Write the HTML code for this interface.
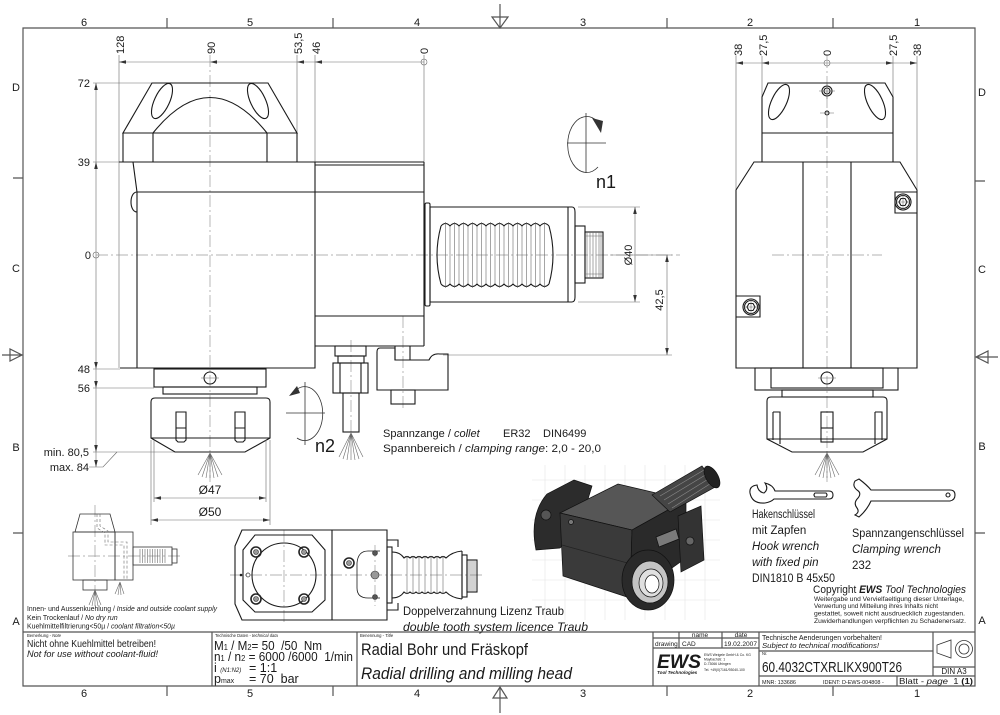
<!DOCTYPE html>
<html><head><meta charset="utf-8"><style>
html,body{margin:0;padding:0;background:#fff;}
svg{display:block;}
text{font-family:"Liberation Sans",sans-serif;fill:#1a1a1a;white-space:pre;}
.k{fill:none;stroke:#1a1a1a;stroke-width:1.1;}
.m{fill:none;stroke:#333;stroke-width:0.8;}
.t{fill:none;stroke:#6a6a6a;stroke-width:0.6;}
.c{fill:none;stroke:#9a9a9a;stroke-width:0.7;stroke-dasharray:12 3 2 3;}
.f{fill:none;stroke:#555;stroke-width:1.2;}
.a{fill:#333;stroke:none;}
</style></head><body>
<svg width="1000" height="715" viewBox="0 0 1000 715" xmlns="http://www.w3.org/2000/svg">
<rect width="1000" height="715" fill="#fff"/>

<!-- ===== FRAME ===== -->
<path class="f" d="M23,28 H975 V686 H23 Z"/>
<g class="f">
<path d="M167,18V28 M333,18V28 M667,18V28 M833,18V28"/>
<path d="M167,686V696 M333,686V696 M667,686V696 M833,686V696"/>
<path d="M13,178H23 M13,533H23 M975,181H985 M975,533H985"/>
<path d="M492,17 L508,17 L500,28 Z M500,4 V28"/>
<path d="M493,698 L507,698 L500,687 Z M500,687 V713"/>
<path d="M10,349 L10,361 L22,355 Z M2,355 H23"/>
<path d="M988,351 L988,363 L976,357 Z M976,357 H998"/>
</g>
<g font-size="11" fill="#444" text-anchor="middle">
<text x="84" y="26">6</text><text x="250" y="26">5</text><text x="417" y="26">4</text><text x="583" y="26">3</text><text x="750" y="26">2</text><text x="917" y="26">1</text>
<text x="84" y="697">6</text><text x="250" y="697">5</text><text x="417" y="697">4</text><text x="583" y="697">3</text><text x="750" y="697">2</text><text x="917" y="697">1</text>
<text x="16" y="91">D</text><text x="16" y="272">C</text><text x="16" y="451">B</text><text x="16" y="625">A</text>
<text x="982" y="96">D</text><text x="982" y="273">C</text><text x="982" y="450">B</text><text x="982" y="624">A</text>
</g>

<!-- ===== MAIN VIEW DIMENSIONS ===== -->
<g class="t">
<path d="M119,62 H424"/>
<path d="M119,55 V368 M297,55 V133 M315,55 V162 M424,55 V162"/>
<path d="M93,83 H152 M93,162 H123 M93,369 H120 M93,388 H154 M93,452 H210"/>
<path d="M96,83 V467"/>
<circle cx="424" cy="62" r="3"/>
<circle cx="96" cy="255" r="3"/>
<path d="M89,467 H103 L117,452"/>
</g>
<g class="a">
<path d="M119,62 l7,-1.8 v3.6z M210,62 l7,-1.8 v3.6z M297,62 l7,-1.8 v3.6z M315,62 l7,-1.8 v3.6z"/>
<path d="M96,83 l-1.8,7 h3.6z M96,162 l-1.8,7 h3.6z M96,369 l-1.8,-7 h3.6z M96,388 l-1.8,-7 h3.6z M96,452 l-1.8,-7 h3.6z M96,467 l-1.8,-7 h3.6z"/>
</g>
<g font-size="11">
<text transform="translate(124,54) rotate(-90)">128</text>
<text transform="translate(215,54) rotate(-90)">90</text>
<text transform="translate(302,54) rotate(-90)">53,5</text>
<text transform="translate(320,54) rotate(-90)">46</text>
<text transform="translate(428,54) rotate(-90)">0</text>
</g>
<g font-size="11" text-anchor="end">
<text x="90" y="87">72</text>
<text x="90" y="166">39</text>
<text x="91" y="259">0</text>
<text x="90" y="373">48</text>
<text x="90" y="392">56</text>
<text x="89" y="456">min. 80,5</text>
<text x="89" y="471">max. 84</text>
</g>

<!-- center lines -->
<path class="c" d="M210,55 V482"/>
<path class="c" d="M96,255 H680"/>
<path class="c" d="M403,316 V410"/>
<path class="c" d="M351,340 V440"/>

<!-- ===== MAIN VIEW BODY ===== -->
<g class="k">
<path d="M152,83 H268 L297,133 H123 Z"/>
<path d="M123,133 V162 M297,133 V162 M153,133 V162 M267,133 V162"/>
<path d="M153,133 Q210,62 267,133"/>
<ellipse cx="162" cy="101" rx="7.5" ry="19" transform="rotate(25 162 101)"/>
<ellipse cx="258" cy="101" rx="7.5" ry="19" transform="rotate(-25 258 101)"/>
<path d="M119,162 H424"/>
<path d="M133,162 L137,192 V368"/>
<path d="M137,192 C129,192 129,212 137,212"/>
<path d="M137,192 H424"/>
<path d="M120,368 H315 V162"/>
<path d="M315,165 H424 M315,316 H424 M315,346 H424 M424,162 V346"/>
<!-- spindle -->
<rect x="425" y="203" width="5" height="103" rx="1.5"/>
<path d="M430,207 H572 Q575,207 575,212 V297 Q575,302 572,302 H430 Z"/>
<path d="M568,207 V302"/>
<path d="M441,226 q4.5,-5 9,0 q4.5,-5 9,0 q4.5,-5 9,0 q4.5,-5 9,0 q4.5,-5 9,0 q4.5,-5 9,0 q4.5,-5 9,0 q4.5,-5 9,0 q4.5,-5 9,0 q4.5,-5 9,0 q4.5,-5 9,0 q4.5,-5 9,0"/>
<path d="M441,284 q4.5,5 9,0 q4.5,5 9,0 q4.5,5 9,0 q4.5,5 9,0 q4.5,5 9,0 q4.5,5 9,0 q4.5,5 9,0 q4.5,5 9,0 q4.5,5 9,0 q4.5,5 9,0 q4.5,5 9,0 q4.5,5 9,0"/>
<path d="M441,226 Q433,255 441,284 M549,226 Q557,255 549,284"/>
<rect x="575" y="226" width="10" height="57"/>
<rect x="585" y="232" width="18" height="46"/>
</g>
<g class="t" stroke="#444">
<path d="M445.5,222V288 M454.5,222V288 M463.5,222V288 M472.5,222V288 M481.5,222V288 M490.5,222V288 M499.5,222V288 M508.5,222V288 M517.5,222V288 M526.5,222V288 M535.5,222V288 M544.5,222V288"/>
<path d="M450,226V284 M459,226V284 M468,226V284 M477,226V284 M486,226V284 M495,226V284 M504,226V284 M513,226V284 M522,226V284 M531,226V284 M540,226V284"/>
<path d="M587,232V278 M590,232V278 M593,232V278 M596,232V278 M599,232V278 M601,232V278 M585,236H603 M585,274H603"/>
</g>
<!-- spindle dims -->
<g class="t">
<path d="M578,207 H640 M578,302 H640 M635,207 V302"/>
<path d="M443,355 H672 M667,255 V355 M610,255 H672"/>
</g>
<g class="a">
<path d="M635,207 l-1.8,7 h3.6z M635,302 l-1.8,-7 h3.6z M667,255 l-1.8,7 h3.6z M667,355 l-1.8,-7 h3.6z"/>
</g>
<text font-size="11" text-anchor="middle" transform="translate(632,255) rotate(-90)">Ø40</text>
<text font-size="11" text-anchor="middle" transform="translate(663,300) rotate(-90)">42,5</text>

<!-- n1 -->
<g class="m">
<path d="M586,113 V173 M567,143 H606"/>
<path d="M597,121 A19,28 0 1 0 598,167"/>
</g>
<path class="a" d="M592,118 L603,121 L601,133 Z"/>
<text x="596" y="188" font-size="18">n1</text>

<!-- nozzle + clamp -->
<g class="k">
<rect x="335" y="346" width="31" height="10"/>
<rect x="338" y="356" width="26" height="7"/>
<rect x="333" y="363" width="35" height="30"/>
<path d="M340,363V393 M361,363V393"/>
<rect x="343" y="393" width="16" height="39"/>
<path d="M380,348 H395 V360 H429 Q432,353 440,354 H448 V390 H377 V352 Q377,348 380,348 Z"/>
<path d="M395,346 V360 M410,346 V360"/>
<rect x="391" y="390" width="24" height="14"/>
</g>
<g class="t" stroke="#333">
<path d="M351,433 L339,457 M351,433 L343,459 M351,433 L347,460 M351,433 L351,460 M351,433 L355,460 M351,433 L359,459 M351,433 L363,457"/>
</g>

<!-- n2 -->
<g class="m">
<path d="M305,382 V445 M286,413 H325"/>
<path d="M296,390 A18,27 0 1 1 297,438"/>
</g>
<path class="a" d="M289,396 L297,386 L300,393 Z"/>
<text x="315" y="452" font-size="18">n2</text>

<!-- collet nut main view -->
<g class="k">
<rect x="154" y="369" width="112" height="18"/>
<circle cx="210" cy="378" r="6"/>
<rect x="163" y="387" width="94" height="7"/>
<path d="M151,438 V402 Q151,398 155,398 H266 Q270,398 270,402 V438 L245,452 H175 Z"/>
<path d="M151,438 H270"/>
<path d="M176,412 H186 V440 L184,442 H178 L176,440 Z M176,428 H186"/>
<path d="M235,412 H245 V440 L243,442 H237 L235,440 Z M235,428 H245"/>
</g>
<path class="t" d="M201,378 H219"/>
<g class="t" stroke="#333">
<path d="M210,453 L198,475 M210,453 L202,477 M210,453 L206,478 M210,453 L210,478 M210,453 L214,478 M210,453 L218,477 M210,453 L222,475"/>
</g>
<g class="t">
<path d="M154,440 V502 M266,440 V502 M154,498 H266"/>
<path d="M151,440 V525 M270,440 V525 M151,520 H270"/>
</g>
<g class="a">
<path d="M154,498 l7,-1.8 v3.6z M266,498 l-7,-1.8 v3.6z M151,520 l7,-1.8 v3.6z M270,520 l-7,-1.8 v3.6z"/>
</g>
<text x="210" y="494" font-size="12" text-anchor="middle">Ø47</text>
<text x="210" y="516" font-size="12" text-anchor="middle">Ø50</text>

<text x="383" y="437" font-size="11">Spannzange / <tspan font-style="italic">collet</tspan></text>
<text x="503" y="437" font-size="11">ER32</text>
<text x="543" y="437" font-size="11">DIN6499</text>
<text x="383" y="452" font-size="11" textLength="218" lengthAdjust="spacingAndGlyphs">Spannbereich / <tspan font-style="italic">clamping range</tspan>: 2,0 - 20,0</text>

<!-- ===== RIGHT VIEW ===== -->
<g class="t">
<path d="M736,63 H917"/>
<path d="M736,56 V190 M762,56 V97 M893,56 V97 M917,56 V190"/>
<circle cx="827" cy="63" r="3"/>
</g>
<g class="a">
<path d="M736,63 l7,-1.8 v3.6z M762,63 l7,-1.8 v3.6z M893,63 l-7,-1.8 v3.6z M917,63 l-7,-1.8 v3.6z"/>
</g>
<g font-size="11">
<text transform="translate(742,56) rotate(-90)">38</text>
<text transform="translate(767,56) rotate(-90)">27,5</text>
<text transform="translate(831,56) rotate(-90)">0</text>
<text transform="translate(897,56) rotate(-90)">27,5</text>
<text transform="translate(921,56) rotate(-90)">38</text>
</g>
<path class="c" d="M827,56 V482"/>
<path class="c" d="M772,255 H882"/>
<g class="k">
<path d="M762,162 V97 L768,83 H885 L893,97 V162"/>
<path d="M762,133 H893"/>
<ellipse cx="779" cy="102" rx="7.5" ry="19" transform="rotate(25 779 102)"/>
<ellipse cx="875" cy="102" rx="7.5" ry="19" transform="rotate(-25 875 102)"/>
<circle cx="827" cy="91" r="5"/>
<circle cx="827" cy="91" r="3"/>
<circle cx="827" cy="113" r="2"/>
<path d="M754,162 H900 L917,190 V368 H736 V190 Z"/>
<path d="M803,162 V368 M851,162 V368"/>
<path d="M917,192 H895 V213 H917"/>
<circle cx="903" cy="202" r="8"/>
<circle cx="903" cy="202" r="6.5"/>
<path d="M899,202 l2,-3.5 h4 l2,3.5 l-2,3.5 h-4 Z"/>
<path d="M736,296 H760 V317 H736"/>
<circle cx="751" cy="307" r="8"/>
<circle cx="751" cy="307" r="6.5"/>
<path d="M747,307 l2,-3.5 h4 l2,3.5 l-2,3.5 h-4 Z"/>
<rect x="755" y="368" width="143" height="22"/>
<rect x="771" y="368" width="112" height="20"/>
<circle cx="827" cy="378" r="6"/>
<rect x="782" y="390" width="91" height="7"/>
<path d="M767,439 V401 Q767,397 771,397 H883 Q887,397 887,401 V439 L863,452 H792 Z"/>
<path d="M767,439 H887"/>
<path d="M773,412 H780 V444 M773,412 V440"/>
<path d="M875,412 H882 V440 M875,412 V444"/>
<rect x="821" y="412" width="12" height="30"/>
<path d="M821,428 H833"/>
</g>
<g class="t">
<path d="M819,91H835 M827,83V99 M820,113H834 M894,202H912 M903,193V211 M742,307H760 M751,298V316 M818,378H836"/>
</g>
<g class="t" stroke="#333">
<path d="M827,453 L815,475 M827,453 L819,477 M827,453 L823,478 M827,453 L827,478 M827,453 L831,478 M827,453 L835,477 M827,453 L839,475"/>
</g>

<!-- ===== WRENCHES ===== -->
<g class="k" stroke-width="1">
<path d="M757,485 Q749,486 750,493 Q752,504 765,503 Q771,502 774,499 H829 Q833,499 833,495 Q833,491 829,491 H775 Q773,485 765,483 Q769,489 764,493 Q758,492 757,485 Z"/>
<path d="M815,493 H826 Q828,495 826,497 H815 Q813,495 815,493 Z"/>
<path d="M855,481 Q852,486 857,490 Q862,493 858,498 Q853,503 857,508 Q860,512 855,515 L859,517 Q867,510 871,501 H950 Q955,500 955,495 Q955,490 950,490 H871 Q867,485 859,479 Z"/>
<circle cx="948" cy="495" r="2"/>
</g>
<g font-size="11.5">
<text x="752" y="518" textLength="63" lengthAdjust="spacingAndGlyphs">Hakenschlüssel</text>
<text x="752" y="534">mit Zapfen</text>
<text x="752" y="550" font-style="italic">Hook wrench</text>
<text x="752" y="566" font-style="italic">with fixed pin</text>
<text x="752" y="582" textLength="83" lengthAdjust="spacingAndGlyphs">DIN1810 B 45x50</text>
<text x="852" y="537" textLength="112" lengthAdjust="spacingAndGlyphs">Spannzangenschlüssel</text>
<text x="852" y="553" font-style="italic">Clamping wrench</text>
<text x="852" y="569">232</text>
</g>
<text x="813" y="593" font-size="11" textLength="153" lengthAdjust="spacingAndGlyphs">Copyright <tspan font-weight="bold" font-style="italic">EWS</tspan> <tspan font-style="italic">Tool Technologies</tspan></text>
<g font-size="6.3">
<text x="814" y="601" textLength="150" lengthAdjust="spacingAndGlyphs">Weitergabe und Vervielfaeltigung dieser Unterlage,</text>
<text x="814" y="608" textLength="124" lengthAdjust="spacingAndGlyphs">Verwertung und Mitteilung ihres Inhalts nicht</text>
<text x="814" y="615.5" textLength="151" lengthAdjust="spacingAndGlyphs">gestattet, soweit nicht ausdruecklich zugestanden.</text>
<text x="814" y="623" textLength="152" lengthAdjust="spacingAndGlyphs">Zuwiderhandlungen verpflichten zu Schadenersatz.</text>
</g>

<!-- ===== ISOMETRIC RENDER ===== -->
<g stroke="#ececec" stroke-width="0.8" fill="none">
<path d="M545,465V620 M565,465V620 M585,465V620 M605,465V620 M625,465V620 M645,465V620 M665,465V620 M685,465V620 M705,465V620"/>
<path d="M532,480H720 M532,500H720 M532,520H720 M532,540H720 M532,560H720 M532,580H720 M532,600H720"/>
</g>
<g stroke="#111" stroke-width="0.7">
<path d="M536,550 Q529,515 547,494 L574,480 L592,486 L578,532 L560,548 Z" fill="#2c2c2c"/>
<circle cx="546" cy="515" r="5" fill="#555"/>
<path d="M560,513 L618,484 L686,500 L632,530 Z" fill="#565656"/>
<path d="M560,513 L632,530 L630,598 L563,576 Z" fill="#3a3a3a"/>
<path d="M562,545 L631,564" stroke="#222"/>
<path d="M632,530 L686,500 L686,558 L630,598 Z" fill="#2a2a2a"/>
<path d="M652,495 L702,466 L717,486 L670,512 Z" fill="#454545"/>
<path d="M660,496 L704,470 M664,500 L707,474 M668,504 L710,478 M672,508 L713,482" stroke="#888"/>
<ellipse cx="712" cy="477" rx="6" ry="12" fill="#222" transform="rotate(-30 712 477)"/>
<path d="M678,516 L701,506 L704,560 L681,572 Z" fill="#333"/>
<path d="M656,537 L676,529 L679,539 L659,547 Z" fill="#7a7a7a"/>
<circle cx="690" cy="541" r="4" fill="#666"/>
<ellipse cx="648" cy="580" rx="26" ry="30" fill="#2a2a2a"/>
<ellipse cx="650" cy="582" rx="18" ry="21" fill="#c4c4c4"/>
<ellipse cx="651" cy="583" rx="12" ry="14" fill="#e0e0e0"/>
<ellipse cx="652" cy="584" rx="7" ry="9" fill="#fff"/>
<circle cx="571" cy="522" r="2.5" fill="#777"/>
</g>

<!-- ===== SMALL SCHEMATIC (bottom left) ===== -->
<path class="c" d="M68,556 H182 M95,505 V596"/>
<g class="m">
<path d="M80,514 H110 L115,532 H75 Z"/>
<rect x="73" y="532" width="42" height="48"/>
<rect x="115" y="532" width="18" height="48"/>
<rect x="133" y="547" width="39" height="18"/>
<rect x="172" y="549" width="5" height="14"/>
<rect x="83" y="580" width="24" height="10"/>
</g>
<g class="t" stroke="#444">
<path d="M140,549V563 M142.5,549V563 M145,549V563 M147.5,549V563 M150,549V563 M152.5,549V563 M155,549V563 M157.5,549V563 M160,549V563 M162.5,549V563 M165,549V563"/>
<path d="M97,514 V528 L105,533 V545 H124 V580 M100,514 V526 L108,531 V542 H127 V580" stroke-dasharray="3 2"/>
<path d="M95,590 L89,605 M95,590 L92,606 M95,590 L95,606 M95,590 L98,606 M95,590 L101,605 M120,582 L115,594 M120,582 L118,595 M120,582 L121,595 M120,582 L124,594"/>
</g>
<g font-size="7">
<text x="27" y="611" textLength="190" lengthAdjust="spacingAndGlyphs">Innen- und Aussenkuehlung / <tspan font-style="italic">Inside and outside coolant supply</tspan></text>
<text x="27" y="620">Kein Trockenlauf / <tspan font-style="italic">No dry run</tspan></text>
<text x="27" y="628.5" textLength="148" lengthAdjust="spacingAndGlyphs">Kuehlmittelfiltrierung&lt;50µ / <tspan font-style="italic">coolant filtration&lt;50µ</tspan></text>
</g>

<!-- ===== BOTTOM VIEW ===== -->
<path class="c" d="M230,575 H485 M284,530 V622 M375,545 V606"/>
<g class="k">
<path d="M242,530 H387 V620 H242 L235,604 V546 Z"/>
<path d="M255,535 H312 L325,550 V600 L312,612 H255 L243,600 V550 Z"/>
<circle cx="284" cy="575" r="32"/>
<path d="M332,530 V620"/>
<path d="M387,540 H398 V547 M387,610 H398 V603"/>
<rect x="387" y="547" width="5" height="56"/>
<path d="M392,552 Q400,552 404,558 q3,-3 6,0 q3,-3 6,0 q3,-3 6,0 q3,-3 6,0 q3,-3 6,0 q3,-3 6,0 q3,-3 6,0 Q452,552 462,551"/>
<path d="M392,598 Q400,598 404,592 q3,3 6,0 q3,3 6,0 q3,3 6,0 q3,3 6,0 q3,3 6,0 q3,3 6,0 q3,3 6,0 Q452,598 462,599"/>
<path d="M462,551 V599"/>
<rect x="462" y="555" width="5" height="42"/>
<rect x="467" y="560" width="10" height="32"/>
<path d="M380,551 H368 Q358,551 357,563 V588 Q357,598 368,598 H380" stroke-width="0.8"/>
</g>
<g stroke="#222" stroke-width="1.6" fill="none">
<circle cx="256" cy="552" r="5"/><circle cx="304" cy="552" r="5"/><circle cx="256" cy="599" r="5"/><circle cx="304" cy="599" r="5"/>
<circle cx="349" cy="563" r="5"/>
</g>
<g fill="#999" stroke="#333" stroke-width="0.6">
<circle cx="256" cy="552" r="2.5"/><circle cx="304" cy="552" r="2.5"/><circle cx="256" cy="599" r="2.5"/><circle cx="304" cy="599" r="2.5"/>
<circle cx="349" cy="563" r="2.5"/>
<circle cx="375" cy="575" r="4"/>
<circle cx="375" cy="553" r="2.5" fill="#555"/>
<circle cx="375" cy="597" r="2.5" fill="#555"/>
</g>
<circle cx="241" cy="575" r="1.3" fill="#222"/>
<circle cx="248" cy="575" r="2" fill="none" stroke="#333" stroke-width="0.7"/>
<g class="t" stroke="#444">
<path d="M407,556V594 M413,556V594 M419,556V594 M425,556V594 M431,556V594 M437,556V594 M443,556V594 M469,560V592 M471,560V592 M473,560V592 M475,560V592"/>
</g>
<text x="403" y="615" font-size="12" textLength="161" lengthAdjust="spacingAndGlyphs">Doppelverzahnung Lizenz Traub</text>
<text x="403" y="631" font-size="12" font-style="italic" textLength="185" lengthAdjust="spacingAndGlyphs">double tooth system licence Traub</text>

<!-- ===== TITLE BLOCK ===== -->
<g class="f" stroke-width="1">
<path d="M23,632 H975"/>
<path d="M212,632 V686 M357,632 V686 M653,632 V686 M759,632 V686"/>
<path d="M653,638 H759 M653,648 H759 M679,632 V648 M722,632 V648"/>
<path d="M759,651 H933 M933,632 V676 M933,667 H975 M759,676 H975 M897,676 V686"/>
</g>
<g font-size="4.2" fill="#444">
<text x="27" y="637">Bemerkung - <tspan font-style="italic">Note</tspan></text>
<text x="215" y="637">Technische Daten - <tspan font-style="italic">technical data</tspan></text>
<text x="360" y="637">Benennung - <tspan font-style="italic">Title</tspan></text>
<text x="762" y="655">Nr.</text>
</g>
<text x="27" y="647" font-size="10" textLength="129" lengthAdjust="spacingAndGlyphs">Nicht ohne Kuehlmittel betreiben!</text>
<text x="27" y="657" font-size="9" font-style="italic" textLength="131" lengthAdjust="spacingAndGlyphs">Not for use without coolant-fluid!</text>
<g font-size="12.5">
<text x="214" y="650" textLength="108" lengthAdjust="spacingAndGlyphs">M<tspan font-size="8">1</tspan> / M<tspan font-size="8">2</tspan>= 50  /50  Nm</text>
<text x="214" y="661" textLength="139" lengthAdjust="spacingAndGlyphs">n<tspan font-size="8">1</tspan> / n<tspan font-size="8">2</tspan> = 6000 /6000  1/min</text>
<text x="214" y="672">i <tspan font-size="6" font-style="italic">(N1:N2)</tspan></text>
<text x="249" y="672">= 1:1</text>
<text x="214" y="683">p<tspan font-size="7">max</tspan></text>
<text x="249" y="683">= 70  bar</text>
</g>
<text x="361" y="655" font-size="17" textLength="167" lengthAdjust="spacingAndGlyphs">Radial Bohr und Fräskopf</text>
<text x="361" y="679" font-size="17" font-style="italic" textLength="211" lengthAdjust="spacingAndGlyphs">Radial drilling and milling head</text>
<g font-size="6.5">
<text x="700" y="637" text-anchor="middle">name</text>
<text x="741" y="637" text-anchor="middle">date</text>
<text x="655" y="646">drawing</text>
<text x="682" y="646">CAD</text>
<text x="724" y="646" textLength="33" lengthAdjust="spacingAndGlyphs">19.02.2007</text>
</g>
<text x="657" y="668" font-size="19" font-weight="bold" font-style="italic" textLength="44" lengthAdjust="spacingAndGlyphs">EWS</text>
<text x="657" y="674" font-size="4.6" font-weight="bold" font-style="italic">Tool Technologies</text>
<g font-size="3.4" fill="#444">
<text x="704" y="656">EWS Weigele GmbH &amp; Co. KG</text>
<text x="704" y="660.5">Maybachstr. 1</text>
<text x="704" y="665">D-73066 Uhingen</text>
<text x="704" y="671">Tel. +49(0)7161/93040-100</text>
</g>
<text x="762" y="640" font-size="7" textLength="120" lengthAdjust="spacingAndGlyphs">Technische Aenderungen vorbehalten!</text>
<text x="762" y="648" font-size="7" font-style="italic" textLength="117" lengthAdjust="spacingAndGlyphs">Subject to technical modifications!</text>
<text x="762" y="672" font-size="15" textLength="140" lengthAdjust="spacingAndGlyphs">60.4032CTXRLIKX900T26</text>
<text x="762" y="684" font-size="5.5">MNR: 133686</text>
<text x="823" y="684" font-size="5.5">IDENT: D-EWS-004808 -</text>
<text x="899" y="684" font-size="8" textLength="74" lengthAdjust="spacingAndGlyphs">Blatt - <tspan font-style="italic">page</tspan>  1 <tspan font-weight="bold">(1)</tspan></text>
<text x="954" y="674" font-size="8" text-anchor="middle">DIN A3</text>
<g class="m" stroke-width="1">
<path d="M937,645 L951,640 V658 L937,653 Z"/>
<circle cx="964" cy="649" r="8.5"/>
<circle cx="964" cy="649" r="5"/>
</g>
</svg>
</body></html>
